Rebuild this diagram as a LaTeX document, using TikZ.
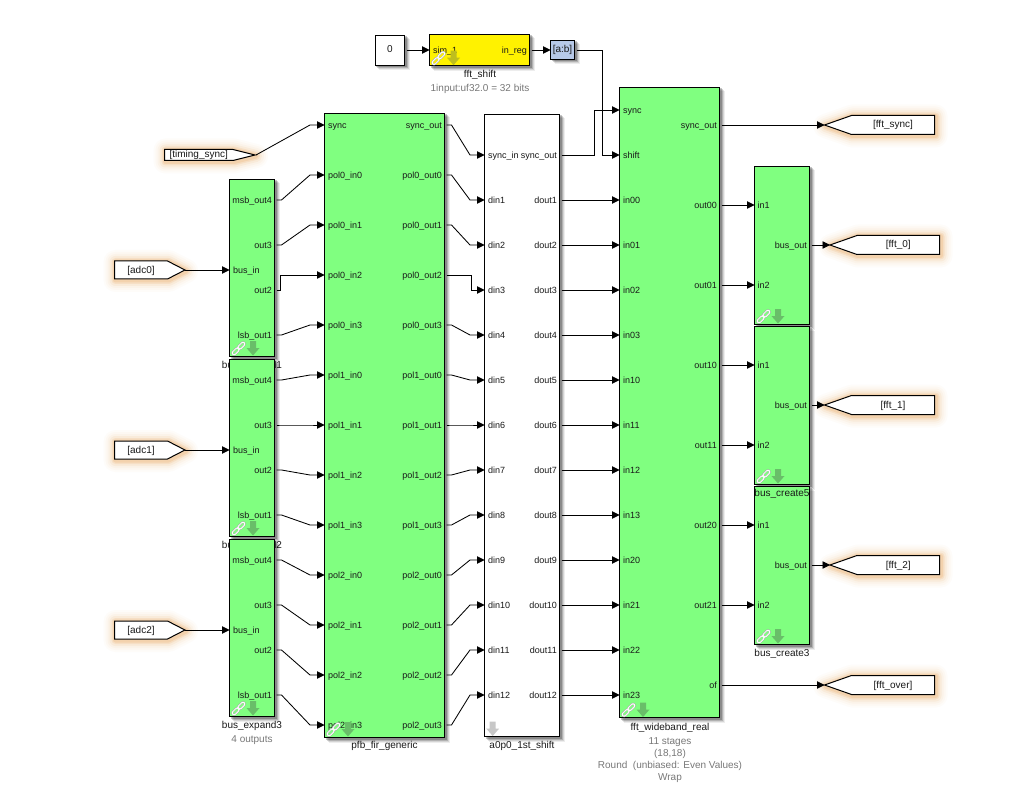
\documentclass[tikz,border=0pt]{standalone}
\usepackage{fontspec}
\setmainfont{Liberation Sans}
\usetikzlibrary{arrows.meta,calc}
\catcode`\_=12
\definecolor{blockgreen}{RGB}{128,255,128}
\definecolor{tagblue}{RGB}{183,201,232}
\definecolor{txt}{RGB}{25,25,25}
\definecolor{subtxt}{RGB}{120,120,120}
\definecolor{glow}{RGB}{235,165,90}
\definecolor{arrowgreen}{RGB}{105,190,105}
\definecolor{arrowolive}{RGB}{190,190,30}
\tikzset{
  x=1pt,y=-1pt,
  port/.style={font=\fontsize{9}{9}\selectfont,text=txt,inner sep=0pt,yshift=-3.3pt},
  inport/.style={port,anchor=base west},
  outport/.style={port,anchor=base east},
  tagtext/.style={font=\fontsize{10}{10}\selectfont,text=txt,inner sep=0pt,anchor=base,yshift=-3pt},
  blocklabel/.style={font=\fontsize{10}{10}\selectfont,text=txt,inner sep=0pt,anchor=base,yshift=-3.5pt},
  sublabel/.style={font=\fontsize{10}{10}\selectfont,text=subtxt,inner sep=0pt,anchor=base,yshift=-3.5pt},
  blockbox/.style={draw=black,line width=1pt,outer sep=0pt},
  wire/.style={draw=black,line width=0.85pt,-{Triangle[length=7.5pt,width=7.5pt]}},
}
\newcommand{\softshadow}[4]{%
  \foreach \d/\o in {5/0.07,4/0.10,3/0.16,2/0.22}{
    \fill[black,opacity=\o] ($(#1,#2)+(\d-1,\d-1)$) rectangle ($(#3,#4)+(\d,\d)$);
  }}
\newcommand{\brick}[6]{% name, x1,y1,x2,y2, fill
  \softshadow{#2}{#3}{#4}{#5}
  \node[blockbox,fill=#6,minimum width=#4-#2,minimum height=#5-#3,inner sep=0pt,anchor=north west] (#1) at (#2,#3) {};
}
\newcommand{\linkicon}[3]{% left x, top y, inner colour
  \begin{scope}[shift={(#1,#2)},line cap=round]
    \draw[black!35,line width=5.6pt] (3,12)--(6.3,8.7) (8.7,6.3)--(12,3);
    \draw[white,line width=4.6pt] (3,12)--(6.3,8.7) (8.7,6.3)--(12,3);
    \draw[black!25,line width=2.6pt] (3,12)--(6.3,8.7) (8.7,6.3)--(12,3);
    \draw[#3,line width=1.7pt] (3,12)--(6.3,8.7) (8.7,6.3)--(12,3);
  \end{scope}}
\newcommand{\downicon}[3]{% x centre, top y, colour
  \pgfmathsetmacro{\ox}{#1}
  \fill[#3] (\ox-3,#2) -- (\ox+3,#2) -- (\ox+3,#2+7) -- (\ox+6.5,#2+7) -- (\ox,#2+14.5) -- (\ox-6.5,#2+7) -- (\ox-3,#2+7) -- cycle;}
\newcommand{\glowpath}[1]{%
  \foreach \w/\o in {24/0.03,20/0.04,16/0.06,12/0.10,8/0.16,5/0.22}{
    \draw[glow,line width=\w pt,opacity=\o,line join=round,shift={(1,1)}] #1;
  }}
\newcommand{\tagshape}[7]{% name,xflat,ytop,xshoulder,xtip,ybot,text
  \glowpath{(#2,#3) -- (#4,#3) -- (#5,{(#3+#6)/2}) -- (#4,#6) -- (#2,#6) -- cycle}
  \draw[draw=black,fill=white,line width=1pt] (#2,#3) -- (#4,#3) -- (#5,{(#3+#6)/2}) -- (#4,#6) -- (#2,#6) -- cycle;
  \coordinate (#1) at (#5,{(#3+#6)/2});
  \node[tagtext] at ({(#2+#4)/2},{(#3+#6)/2}) {#7};
}
\begin{document}
\begin{tikzpicture}
\useasboundingbox (0,0) rectangle (1024,799);
\fill[white] (0,0) rectangle (1024,799);

% labels that lie partly behind blocks
\node[blocklabel] (l1) at (252,364.5) {bus_expand1};
\node[blocklabel] (l2) at (252,544.5) {bus_expand2};

% blocks
\brick{const}{375}{35.5}{404.5}{65.5}{white}
\brick{shift}{429.5}{34.5}{529.5}{66}{yellow}
\brick{slice}{550.5}{40.5}{574.5}{59.5}{tagblue}
\brick{expA}{229.5}{179.5}{274.5}{356.5}{blockgreen}
\brick{expB}{229.5}{359.5}{274.5}{536.5}{blockgreen}
\brick{expC}{229.5}{539.5}{274.5}{716.5}{blockgreen}
\brick{pfb}{324.5}{113.5}{444.5}{737.5}{blockgreen}
\brick{sft}{484.5}{114.5}{559.5}{736.5}{white}
\brick{fft}{619.5}{87.5}{719.5}{717.5}{blockgreen}
\brick{crA}{754.5}{166.5}{809.5}{324.5}{blockgreen}
\brick{crB}{754.5}{326.5}{809.5}{484.5}{blockgreen}
\brick{crC}{754.5}{486.5}{809.5}{644.5}{blockgreen}

% block texts
\node[tagtext] (c0) at (390,50) {0};
\node[inport] at (433,50) {sim_1};
\node[outport] at (527,50) {in_reg};
\node[tagtext] at (562.5,50) {[a:b]};

% ports: pfb
\node[inport] at (328,125) {sync};
\node[outport] at (442,125) {sync_out};
\foreach \p/\i/\y in {0/0/175,0/1/225,0/2/275,0/3/325,1/0/375,1/1/425,1/2/475,1/3/525,2/0/575,2/1/625,2/2/675,2/3/725}{
  \node[inport] at (328,\y) {pol\p_in\i};
  \node[outport] at (442,\y) {pol\p_out\i};
}
% ports: shift
\node[inport] at (488,155) {sync_in};
\node[outport] at (557,155) {sync_out};
\foreach \n/\y in {1/200,2/245,3/290,4/335,5/380,6/425,7/470,8/515,9/560,10/605,11/650,12/695}{
  \node[inport] at (488,\y) {din\n};
  \node[outport] at (557,\y) {dout\n};
}
% ports: fft
\node[inport] at (623,110) {sync};
\node[inport] at (623,155) {shift};
\foreach \n/\y in {00/200,01/245,02/290,03/335,10/380,11/425,12/470,13/515,20/560,21/605,22/650,23/695}{
  \node[inport] at (623,\y) {in\n};
}
\node[outport] at (717,125) {sync_out};
\foreach \n/\y in {00/205,01/285,10/365,11/445,20/525,21/605}{
  \node[outport] at (717,\y) {out\n};
}
\node[outport] at (717,685) {of};
% ports: expand
\foreach \o in {0,180,360}{
  \node[outport] at (272,200+\o) {msb_out4};
  \node[outport] at (272,245+\o) {out3};
  \node[outport] at (272,290+\o) {out2};
  \node[outport] at (272,335+\o) {lsb_out1};
  \node[inport] at (233,270+\o) {bus_in};
}
% ports: create
\foreach \o in {0,160,320}{
  \node[inport] at (757.5,205+\o) {in1};
  \node[inport] at (757.5,285+\o) {in2};
  \node[outport] at (807,245+\o) {bus_out};
}

% icons
\foreach \x/\y in {231/341,231/521,231/701,326/722,621/702.5,756/309,756/469,756/629}{
  \linkicon{\x}{\y}{blockgreen}
  \downicon{\x+22}{\y}{arrowgreen}
}
\linkicon{431}{50.7}{yellow}
\downicon{453.5}{50.7}{arrowolive}
\downicon{492.7}{721.5}{black!22}

% lower labels
\node[blocklabel] at (782,492.5) {bus_create5};
\node[blocklabel] at (782,652.5) {bus_create3};
\node[blocklabel] at (252,724.5) {bus_expand3};
\node[sublabel] at (252,738.5) {4 outputs};
\node[blocklabel] at (384.5,745) {pfb_fir_generic};
\node[blocklabel] at (522,744.5) {a0p0_1st_shift};
\node[blocklabel] at (670,726.5) {fft_wideband_real};
\node[sublabel] at (670,740.5) {11 stages};
\node[sublabel] at (670,752.5) {(18,18)};
\node[sublabel] at (670,764.5) {Round\ \ (unbiased: Even Values)};
\node[sublabel] at (670,776.5) {Wrap};
\node[blocklabel] at (480,74.5) {fft_shift};
\node[sublabel] at (480,88.5) {1input:uf32.0 = 32 bits};

% tags
\tagshape{ts}{164.5}{149.5}{233}{255}{160.5}{[timing_sync]\hspace{3pt}}
\tagshape{a0}{114.5}{261}{167.5}{185}{279}{[adc0]}
\tagshape{a1}{114.5}{441}{167.5}{185}{459}{[adc1]}
\tagshape{a2}{114.5}{621}{167.5}{185}{639}{[adc2]}
\tagshape{gs}{934.5}{115.5}{851.5}{824.5}{134.5}{[fft_sync]}
\tagshape{g0}{939.5}{235.5}{857}{830}{254.5}{[fft_0]}
\tagshape{g1}{934.5}{395.5}{851.5}{824.5}{414.5}{[fft_1]}
\tagshape{g2}{939.5}{555.5}{857}{830}{574.5}{[fft_2]}
\tagshape{go}{934.5}{675.5}{851.5}{824.5}{694.5}{[fft_over]}

% wires
\path[wire] (const.east |- 0,50) ++(2,0) -- (shift.west |- 0,50);
\path[wire] (shift.east |- 0,50) ++(2,0) -- (slice.west |- 0,50);
\path[wire] (slice.east |- 0,50) ++(2,0) -- (602,50) -- (602,155) -- (fft.west |- 0,155);
\path[wire] (sft.east |- 0,155) ++(2,0) -- (594.5,155) -- (594.5,110) -- (fft.west |- 0,110);
\foreach \y in {200,245,290,335,380,425,470,515,560,605,650,695}{
  \path[wire] (sft.east |- 0,\y) ++(2,0) -- (fft.west |- 0,\y);
}
% timing sync
\path[wire] (ts) ++(1,0) -- (310,125) -- (pfb.west |- 0,125);
% adc inputs
\path[wire] (a0) -- (expA.west |- 0,270);
\path[wire] (a1) -- (expB.west |- 0,450);
\path[wire] (a2) -- (expC.west |- 0,630);
% expand to pfb
\foreach \a/\b in {200/175,245/225,335/325,380/375,425/425,470/475,515/525,560/575,605/625,650/675,695/725}{
  \path[wire] (expA.east |- 0,\a) ++(2,0) -- ++(5,0) -- (310,\b) -- (pfb.west |- 0,\b);
}
\path[wire] (expA.east |- 0,290) ++(2,0) -- (280.5,290) -- (280.5,275) -- (pfb.west |- 0,275);
% pfb to shift
\foreach \a/\b in {125/155,175/200,225/245,325/335,375/380,425/425,475/470,525/515,575/560,625/605,675/650,725/695}{
  \path[wire] (pfb.east |- 0,\a) ++(2,0) -- ++(5,0) -- (470,\b) -- (sft.west |- 0,\b);
}
\path[wire] (pfb.east |- 0,275) ++(2,0) -- (471,275) -- (471,290) -- (sft.west |- 0,290);
% fft to create
\path[wire] (fft.east |- 0,205) ++(2,0) -- (crA.west |- 0,205);
\path[wire] (fft.east |- 0,285) ++(2,0) -- (crA.west |- 0,285);
\path[wire] (fft.east |- 0,365) ++(2,0) -- (crB.west |- 0,365);
\path[wire] (fft.east |- 0,445) ++(2,0) -- (crB.west |- 0,445);
\path[wire] (fft.east |- 0,525) ++(2,0) -- (crC.west |- 0,525);
\path[wire] (fft.east |- 0,605) ++(2,0) -- (crC.west |- 0,605);
\path[wire] (fft.east |- 0,125) ++(2,0) -- (gs);
\path[wire] (fft.east |- 0,685) ++(2,0) -- (go);
\path[wire] (crA.east |- 0,245) ++(2,0) -- (g0);
\path[wire] (crB.east |- 0,405) ++(2,0) -- (g1);
\path[wire] (crC.east |- 0,565) ++(2,0) -- (g2);
\end{tikzpicture}
\end{document}
